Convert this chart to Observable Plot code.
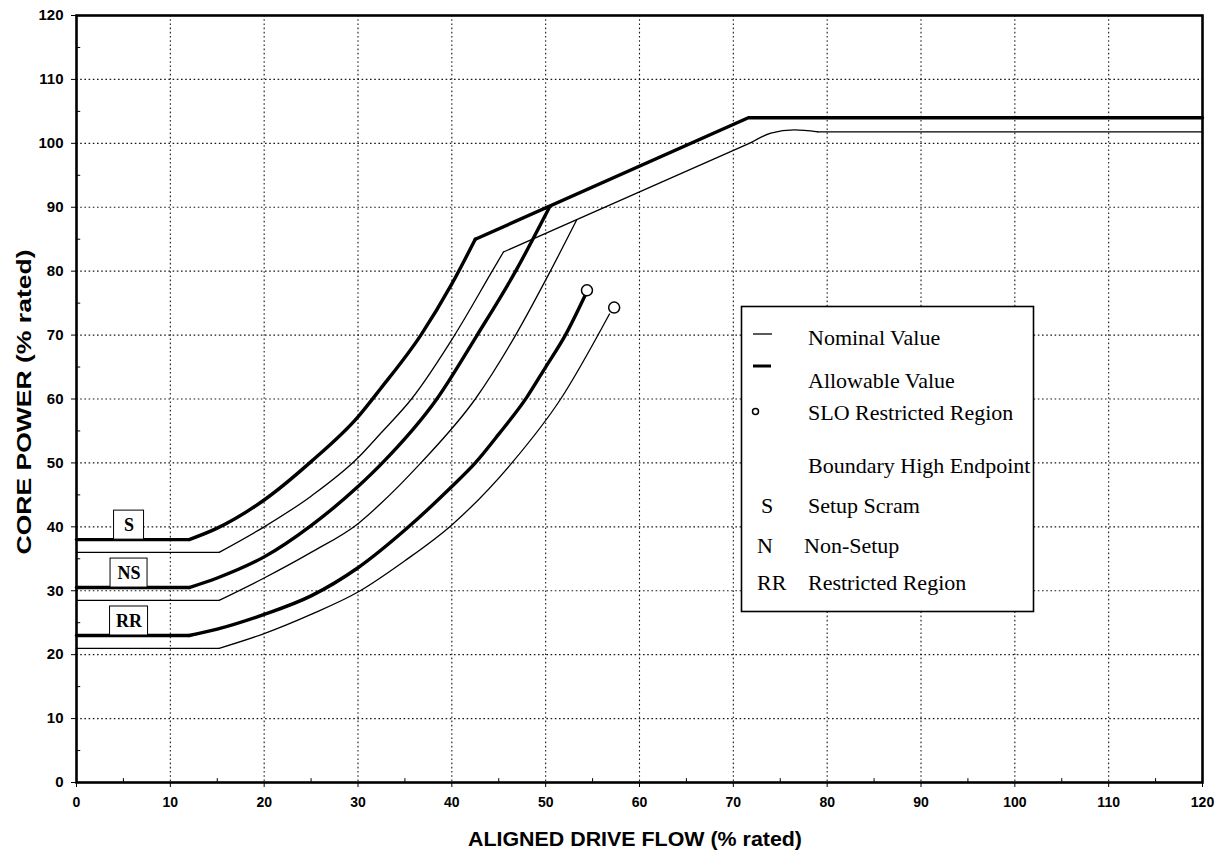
<!DOCTYPE html>
<html>
<head>
<meta charset="utf-8">
<script src="https://cdn.jsdelivr.net/npm/d3@7"></script>
<script src="https://cdn.jsdelivr.net/npm/@observablehq/plot@0.6"></script>
<style>
  html, body { margin: 0; padding: 0; background: #fff; }
  #chart svg { display: block; }
</style>
</head>
<body>
<div id="chart"></div>
<script>
// Axis ticks (% rated)
const flowTicks = d3.range(0, 121, 10);
const powerTicks = d3.range(0, 121, 10);
const minorFlowTicks = d3.range(5, 120, 10);
const minorPowerTicks = d3.range(5, 120, 10);

// Rod block / scram boundaries: [aligned drive flow %, core power %]
const sAllowable  = [[0,38],[12,38],[15,39.8],[20,44.2],[25,50.2],[30,57.2],[32.4,61.6],[36.7,70],[40,78],[42.5,85],[71.6,104],[120,104]];
const sNominal    = [[0,36],[15.2,36],[20,40],[25,44.8],[30,50.8],[32.4,54.6],[35.7,60],[40.3,70],[44.3,80],[45.5,83],[72,100.2],[74,101.6],[76.5,102.1],[79,101.8],[120,101.8]];
const nsAllowable = [[0,30.5],[12,30.5],[15,32],[20,35.3],[25,40.2],[30,46.3],[32.6,50],[38.4,60],[42.7,70],[46.8,80],[50.4,90]];
const nsNominal   = [[0,28.5],[15.2,28.5],[20,32],[25,36],[30,40.5],[32.4,43.6],[36.7,50],[42.5,60],[46.8,70],[50.5,80],[53.3,88]];
const rrAllowable = [[0,23],[12,23],[15,24],[20,26.3],[25,29.2],[30,33.6],[35,39.5],[40,46.3],[42.5,50],[45,54.5],[48,60.3],[50,65],[52.1,70],[54.2,76.2]];
const rrNominal   = [[0,21],[15.2,21],[20,23.3],[25,26.3],[30,29.8],[35,34.7],[40,40.3],[46.4,50],[51.6,60],[56.8,73.3]];

// SLO restricted region boundary high endpoints
const endpointFlow  = [54.4, 57.3];
const endpointPower = [77, 74.3];

// Setpoint tags placed on the allowable-value lines
const tagNames = ["S", "NS", "RR"];

// Legend entries
const legendSymbols = ["", "", "", "", "S", "N", "RR"];
const legendTexts = ["Nominal Value", "Allowable Value", "SLO Restricted Region", "Boundary High Endpoint", "Setup Scram", "Non-Setup", "Restricted Region"];

const THICK = 3.4, THIN = 1.3;

// Each curve: flat part, curved rise, and straight / rounded tail pieces
const curves = [
  {pts: sAllowable,  w: THICK, parts: [[0,1,"linear"],[1,9,"monotone-x"],[9,11,"linear"]]},
  {pts: sNominal,    w: THIN,  parts: [[0,1,"linear"],[1,9,"monotone-x"],[9,10,"linear"],[10,13,"monotone-x"],[13,14,"linear"]]},
  {pts: nsAllowable, w: THICK, parts: [[0,1,"linear"],[1,10,"monotone-x"]]},
  {pts: nsNominal,   w: THIN,  parts: [[0,1,"linear"],[1,10,"monotone-x"]]},
  {pts: rrAllowable, w: THICK, parts: [[0,1,"linear"],[1,13,"monotone-x"]]},
  {pts: rrNominal,   w: THIN,  parts: [[0,1,"linear"],[1,9,"monotone-x"]]}
];

const endpoints = endpointFlow.map((x, i) => ({x, y: endpointPower[i]}));
const tagLevels = [sAllowable[0][1], nsAllowable[0][1], rrAllowable[0][1]];
const tagX = 5.6;
const tagWidths = [30, 37, 38];

const curveMarks = curves.flatMap(c => c.parts.map(([a, b, curve]) =>
  Plot.line(c.pts.slice(a, b + 1), {
    x: d => d[0], y: d => d[1], curve,
    stroke: "#000", strokeWidth: c.w, strokeLinejoin: "round", strokeLinecap: "round"
  })
));

const tagMarks = tagNames.flatMap((name, i) => [
  Plot.rect([{name, y: tagLevels[i]}], {
    x1: tagX, x2: tagX, y1: "y", y2: "y",
    insetLeft: -tagWidths[i] / 2, insetRight: -tagWidths[i] / 2, insetTop: -29, insetBottom: 0,
    fill: "#fff", stroke: "#000", strokeWidth: 1
  }),
  Plot.text([{name, y: tagLevels[i]}], {
    x: tagX, y: "y", text: "name", dy: -14,
    fontFamily: "Liberation Serif, Times New Roman, serif", fontWeight: "bold", fontSize: 18, fill: "#000"
  })
]);

const gridStyle = {stroke: "#000", strokeWidth: 1.1, strokeDasharray: "1.6,2.6", strokeOpacity: 0.9};

const chart = Plot.plot({
  width: 1217,
  height: 855,
  marginLeft: 76,
  marginRight: 15,
  marginTop: 15,
  marginBottom: 73,
  style: {fontFamily: "Liberation Sans, Arial, sans-serif", background: "#fff", color: "#000"},
  x: {domain: [0, 120]},
  y: {domain: [0, 120]},
  marks: [
    Plot.ruleX(flowTicks.slice(1, -1), gridStyle),
    Plot.ruleY(powerTicks.slice(1, -1), gridStyle),
    Plot.ruleY(minorPowerTicks, {x1: 0, x2: 0.45, stroke: "#000", strokeWidth: 1}),
    Plot.ruleX(minorFlowTicks, {y1: 0, y2: 0.6, stroke: "#000", strokeWidth: 1}),
    Plot.axisX(flowTicks, {tickSize: 5, tickPadding: 10, fontSize: 14, fontWeight: "bold", label: null, tickFormat: d => String(d)}),
    Plot.axisY(powerTicks, {tickSize: 5, tickPadding: 8, fontSize: 15, fontWeight: "bold", label: null, tickFormat: d => String(d)}),
    ...curveMarks,
    Plot.dot(endpoints, {x: "x", y: "y", r: 5.5, fill: "#fff", stroke: "#000", strokeWidth: 1.5}),
    ...tagMarks,
    Plot.frame({stroke: "#000", strokeWidth: 2.6})
  ]
});

document.getElementById("chart").append(chart);

const svg = d3.select(chart);

// Axis titles
svg.append("text")
  .attr("x", 635).attr("y", 846)
  .attr("text-anchor", "middle")
  .attr("textLength", 334).attr("lengthAdjust", "spacingAndGlyphs")
  .style("font", "bold 20px 'Liberation Sans', Arial, sans-serif")
  .text("ALIGNED DRIVE FLOW (% rated)");

svg.append("text")
  .attr("transform", "translate(31,402) rotate(-90)")
  .attr("text-anchor", "middle")
  .attr("textLength", 305).attr("lengthAdjust", "spacingAndGlyphs")
  .style("font", "bold 20px 'Liberation Sans', Arial, sans-serif")
  .text("CORE POWER (% rated)");

// Legend box
const lg = svg.append("g")
  .attr("text-anchor", "start")
  .style("text-anchor", "start")
  .style("font", "22px 'Liberation Serif', 'Times New Roman', serif");
lg.append("rect")
  .attr("x", 741.5).attr("y", 306.5).attr("width", 292).attr("height", 305)
  .attr("fill", "#fff").attr("stroke", "#000").attr("stroke-width", 1.6);

const baselines = [345, 388, 420, 473, 513, 553, 590];
const textX = [808, 808, 808, 808, 808, 804, 808];
legendTexts.forEach((t, i) => {
  lg.append("text").attr("x", textX[i]).attr("y", baselines[i]).attr("text-anchor", "start").text(t);
});
// line symbols
lg.append("line").attr("x1", 753).attr("x2", 772).attr("y1", 334).attr("y2", 334)
  .attr("stroke", "#000").attr("stroke-width", 1.3);
lg.append("line").attr("x1", 753).attr("x2", 771).attr("y1", 366).attr("y2", 366)
  .attr("stroke", "#000").attr("stroke-width", 3);
// endpoint symbol
lg.append("circle").attr("cx", 755.5).attr("cy", 411.5).attr("r", 3)
  .attr("fill", "#fff").attr("stroke", "#000").attr("stroke-width", 1.5);
// letter symbols
const symX = [0, 0, 0, 0, 761, 757, 757];
legendSymbols.forEach((s, i) => {
  if (s) lg.append("text").attr("x", symX[i]).attr("y", baselines[i]).attr("text-anchor", "start").text(s);
});
</script>
</body>
</html>
